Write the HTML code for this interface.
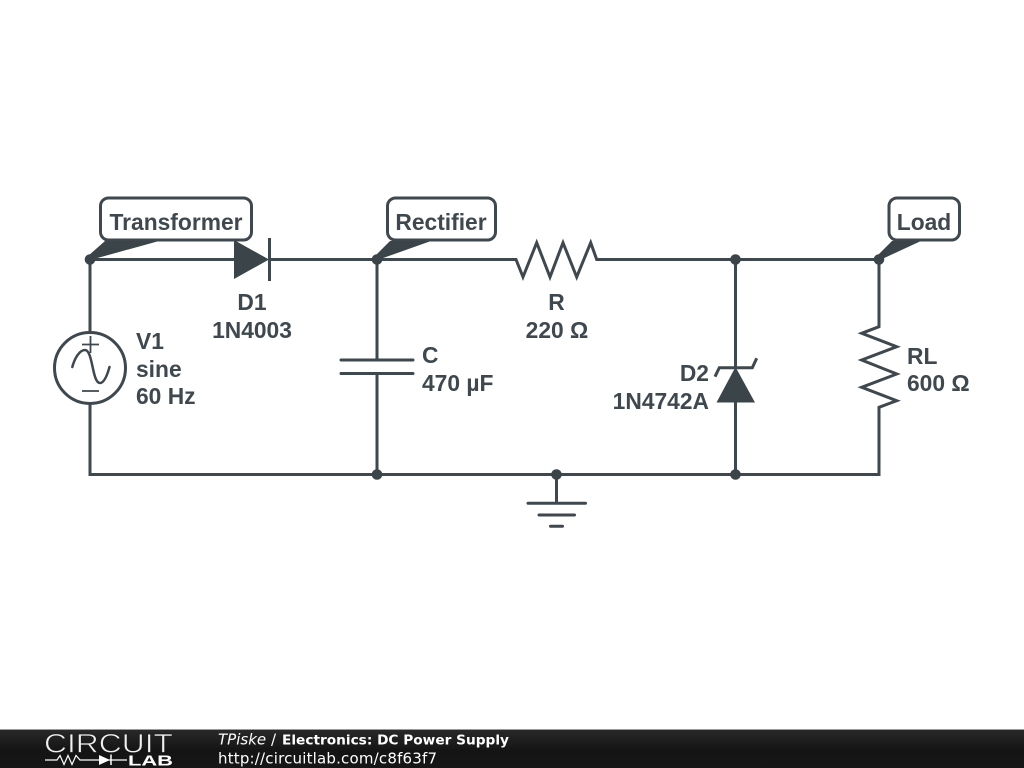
<!DOCTYPE html>
<html>
<head>
<meta charset="utf-8">
<title>Electronics: DC Power Supply</title>
<style>
html,body{margin:0;padding:0;background:#fff;width:1024px;height:768px;overflow:hidden}
svg{display:block}
.l{font-family:"Liberation Sans",sans-serif;font-weight:700;font-size:22.800px;fill:#3e484e}
.w{fill:none;stroke:#3e484e;stroke-width:3;stroke-linejoin:miter}
.r{fill:none;stroke:#3e484e;stroke-width:3;stroke-linecap:round}
.f{fill:#3b4549;stroke:none}
.b{fill:#fff;stroke:#3e484e;stroke-width:3}
.t{font-family:"DejaVu Sans",sans-serif;font-size:15px;fill:#fff}
</style>
</head>
<body>
<svg width="1024" height="768" viewBox="0 0 1024 768" xmlns="http://www.w3.org/2000/svg">
<defs>
<linearGradient id="g" x1="0" y1="0" x2="0" y2="1">
<stop offset="0" stop-color="#2a2a2a"/>
<stop offset="0.55" stop-color="#141414"/>
<stop offset="1" stop-color="#161616"/>
</linearGradient>
</defs>
<rect width="1024" height="768" fill="#fff"/>

<!-- wires -->
<path class="w" d="M90 332V259.5H234M270 259.5H516L523 277L536.7 242.7L550 277L563 242.7L576.7 277L590.7 242.7L596.7 259.5H879V326.7L861.7 333.3L896.7 346.7L861.7 360L896.7 374L861.7 387.3L896.7 400.7L879 407.3V474.5H90V404"/>
<path class="w" d="M377 259.5V360M377 373.5V474.5"/>
<path class="w" d="M735.5 259.5V368M735.5 402V474.5"/>
<path class="w" d="M556.5 474.5V503"/>

<!-- source -->
<circle class="w" cx="90" cy="368" r="35.5"/>
<path d="M82 344.5H99M90.5 336V353M82 391H99" fill="none" stroke="#3e484e" stroke-width="1.800"/>
<path d="M72.3 367C75 357 80 350 85 350C93 350 92 383 100 383C104 383 107 376 109.500 367" fill="none" stroke="#3e484e" stroke-width="2.500" stroke-linecap="round"/>

<!-- D1 -->
<polygon class="f" points="234,240 234,279 269,259.5"/>
<path class="w" d="M269.5 238V281"/>

<!-- Capacitor -->
<path class="r" d="M341 360H413M341 373.5H413"/>

<!-- D2 -->
<polygon class="f" points="735.5,367 716.5,402.5 755,402.5"/>
<path class="w" d="M715 376.7L719.3 367.7H752.3L756.7 358.3"/>

<!-- ground -->
<path class="r" d="M528 503.3H585.5M539 515H574.5M550.5 526.3H562.5"/>

<!-- junctions -->
<g class="f">
<circle cx="90" cy="259.5" r="5.300"/>
<circle cx="377" cy="259.5" r="5.300"/>
<circle cx="735.5" cy="259.5" r="5.300"/>
<circle cx="879" cy="259.5" r="5.300"/>
<circle cx="377" cy="474.5" r="5.300"/>
<circle cx="556.5" cy="474.5" r="5.300"/>
<circle cx="735.5" cy="474.5" r="5.300"/>
</g>

<!-- label bubbles and pointers -->
<rect class="b" x="100.5" y="198" width="151" height="42" rx="8"/>
<polygon class="f" points="88,256 105,241 159,241 92,259.500"/>
<text class="l" x="176" y="230" text-anchor="middle">Transformer</text>

<rect class="b" x="387.5" y="198" width="108" height="42" rx="8"/>
<polygon class="f" points="375,256 390,241 431,241 379,259.500"/>
<text class="l" x="441" y="230" text-anchor="middle">Rectifier</text>

<rect class="b" x="889" y="198" width="70.500" height="42" rx="8"/>
<polygon class="f" points="877,256 892,241 921,241 881,259.500"/>
<text class="l" x="924" y="230" text-anchor="middle">Load</text>

<!-- component labels -->
<text class="l" x="252" y="310" text-anchor="middle">D1</text>
<text class="l" x="252" y="338" text-anchor="middle">1N4003</text>
<text class="l" x="136" y="349">V1</text>
<text class="l" x="136" y="377">sine</text>
<text class="l" x="136" y="404">60 Hz</text>
<text class="l" x="422" y="363">C</text>
<text class="l" x="422" y="391">470 µF</text>
<text class="l" x="556.500" y="310" text-anchor="middle">R</text>
<text class="l" x="557" y="338" text-anchor="middle">220 Ω</text>
<text class="l" x="709" y="381" text-anchor="end">D2</text>
<text class="l" x="709" y="409" text-anchor="end">1N4742A</text>
<text class="l" x="907" y="364">RL</text>
<text class="l" x="907" y="391">600 Ω</text>

<!-- footer -->
<rect x="0" y="729" width="1024" height="39" fill="url(#g)"/>
<rect x="0" y="729" width="1024" height="1" fill="#9a9a9a"/>
<text x="44" y="752.500" font-family="'Liberation Sans',sans-serif" font-size="26.500" fill="#f0f0f0" stroke="#1c1c1c" stroke-width="0.700" textLength="129" lengthAdjust="spacingAndGlyphs">CIRCUIT</text>
<path d="M45 760H57L60 755.500L64 764.500L68 755.500L72 764.500L76 755.500L80 760H127" fill="none" stroke="#fff" stroke-width="1.200"/>
<polygon points="99,755 99,765 110,760" fill="#fff"/>
<path d="M111 754.500V765" stroke="#fff" stroke-width="1.500"/>
<text x="128" y="765.700" font-family="'Liberation Sans',sans-serif" font-weight="700" font-size="15" fill="#fff" textLength="45" lengthAdjust="spacingAndGlyphs">LAB</text>
<text class="t" x="218" y="744.500" font-style="italic">TPiske</text>
<text class="t" x="271" y="744.500">/</text>
<text class="t" x="282" y="744.500" font-weight="700" style="font-size:13.700px">Electronics: DC Power Supply</text>
<text class="t" x="218" y="763.500" textLength="219">http://circuitlab.com/c8f63f7</text>
</svg>
</body>
</html>
